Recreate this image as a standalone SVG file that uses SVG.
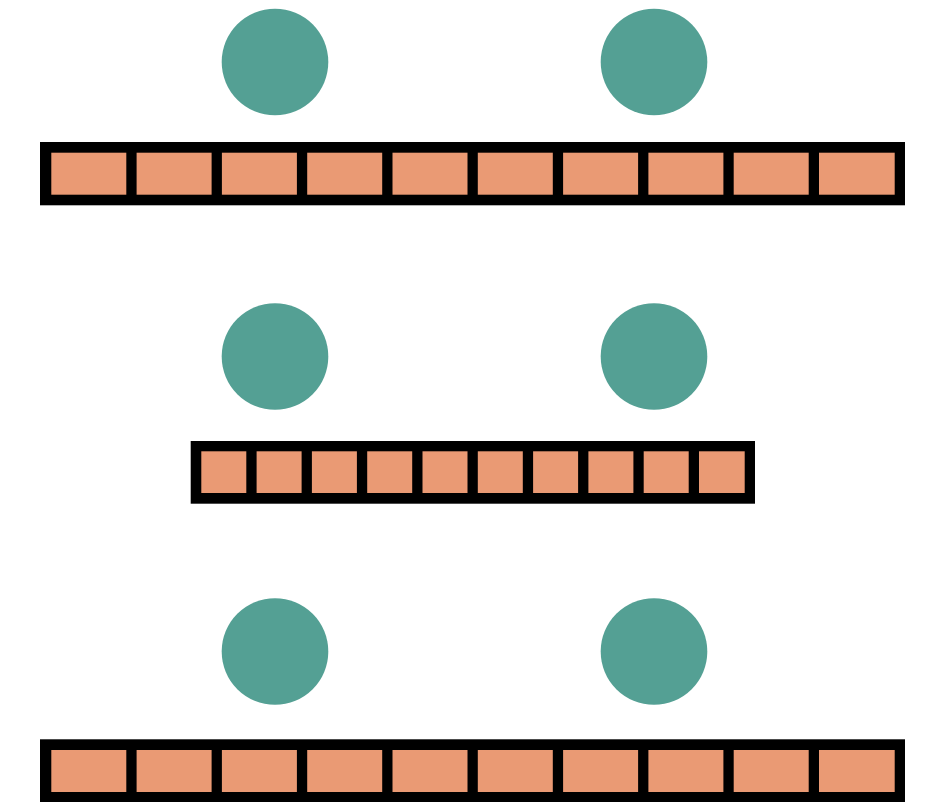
<svg xmlns="http://www.w3.org/2000/svg" width="938" height="802" viewBox="0 0 938 802">
<style>
.dot{fill:#54A094}
.bar{fill:#000}
.cell{fill:#EA9A74}
</style>
<defs>
<g id="wideCells">
<rect class="cell" x="11.3" y="10.7" width="75" height="42"/>
<rect class="cell" x="96.6" y="10.7" width="75" height="42"/>
<rect class="cell" x="181.9" y="10.7" width="75" height="42"/>
<rect class="cell" x="267.2" y="10.7" width="75" height="42"/>
<rect class="cell" x="352.5" y="10.7" width="75" height="42"/>
<rect class="cell" x="437.8" y="10.7" width="75" height="42"/>
<rect class="cell" x="523.1" y="10.7" width="75" height="42"/>
<rect class="cell" x="608.4" y="10.7" width="75" height="42"/>
<rect class="cell" x="693.7" y="10.7" width="75" height="42"/>
<rect class="cell" x="779" y="10.7" width="75.7" height="42"/>
</g>
</defs>
<rect width="938" height="802" fill="#fff"/>
<g id="row1">
<circle id="dot1a" class="dot" cx="275" cy="62" r="53.3"/>
<circle id="dot1b" class="dot" cx="654" cy="62" r="53.3"/>
<g id="bar1" transform="translate(40,142)">
<rect class="bar" x="0" y="0" width="865" height="63.3"/>
<use href="#wideCells"/>
</g>
</g>
<g id="row2">
<circle id="dot2a" class="dot" cx="275" cy="356.5" r="53.3"/>
<circle id="dot2b" class="dot" cx="654" cy="356.5" r="53.3"/>
<g id="bar2" transform="translate(190.7,441)">
<rect class="bar" x="0" y="0" width="564.3" height="62.7"/>
<rect class="cell" x="10.6" y="10.3" width="45" height="41.7"/>
<rect class="cell" x="65.9" y="10.3" width="45" height="41.7"/>
<rect class="cell" x="121.2" y="10.3" width="45" height="41.7"/>
<rect class="cell" x="176.5" y="10.3" width="45" height="41.7"/>
<rect class="cell" x="231.8" y="10.3" width="45" height="41.7"/>
<rect class="cell" x="287.1" y="10.3" width="45" height="41.7"/>
<rect class="cell" x="342.4" y="10.3" width="45" height="41.7"/>
<rect class="cell" x="397.7" y="10.3" width="45" height="41.7"/>
<rect class="cell" x="453" y="10.3" width="45" height="41.7"/>
<rect class="cell" x="508.3" y="10.3" width="45.7" height="41.7"/>
</g>
</g>
<g id="row3">
<circle id="dot3a" class="dot" cx="275" cy="651.5" r="53.3"/>
<circle id="dot3b" class="dot" cx="654" cy="651.5" r="53.3"/>
<g id="bar3" transform="translate(40,739.3)">
<rect class="bar" x="0" y="0" width="865" height="63.3"/>
<use href="#wideCells"/>
</g>
</g>
<g id="connectors"/>
</svg>
